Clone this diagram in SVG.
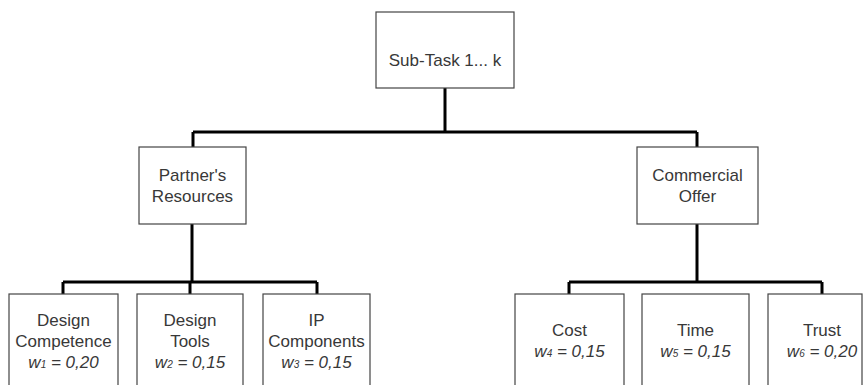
<svg xmlns="http://www.w3.org/2000/svg" width="868" height="385" viewBox="0 0 868 385">
<style>
.box{fill:#fff;stroke:#444;stroke-width:1.2}
.t{font-family:"Liberation Sans",Arial,sans-serif;font-size:17px;fill:#383838;text-anchor:middle}
.w{font-style:italic}
.sub{font-size:10px}
.c{fill:none;stroke:#000;stroke-width:3;stroke-linejoin:miter}
</style>
<rect width="868" height="385" fill="#fff"/>
<g id="connectors">
<path class="c" d="M445 88V132M193 132H697M193 132V147M697 132V147"/>
<path class="c" d="M192 224V282M63 282H317M63 282V294M190 282V294M317 282V294"/>
<path class="c" d="M697 224V282M569 282H822M569 282V294M822 282V294"/>
</g>
<g id="root"><rect class="box" x="376" y="12" width="138" height="76"/><text class="t" x="445" y="66">Sub-Task 1... k</text></g>
<g id="partners"><rect class="box" x="139" y="147" width="107" height="77"/><text class="t" x="192.5" y="181">Partner's</text><text class="t" x="192.5" y="202">Resources</text></g>
<g id="commercial"><rect class="box" x="637" y="147" width="121" height="77"/><text class="t" x="697.5" y="181">Commercial</text><text class="t" x="697.5" y="202">Offer</text></g>
<g id="design-competence"><rect class="box" x="9" y="294" width="109" height="100"/><text class="t" x="63.5" y="326">Design</text><text class="t" x="63.5" y="347">Competence</text><text class="t w" x="63.5" y="368">w<tspan class="sub">1</tspan> = 0,20</text></g>
<g id="design-tools"><rect class="box" x="137" y="294" width="106" height="100"/><text class="t" x="190" y="326">Design</text><text class="t" x="190" y="347">Tools</text><text class="t w" x="190" y="368">w<tspan class="sub">2</tspan> = 0,15</text></g>
<g id="ip-components"><rect class="box" x="263" y="294" width="107" height="100"/><text class="t" x="316.5" y="326">IP</text><text class="t" x="316.5" y="347">Components</text><text class="t w" x="316.5" y="368">w<tspan class="sub">3</tspan> = 0,15</text></g>
<g id="cost"><rect class="box" x="515" y="294" width="109" height="100"/><text class="t" x="569.5" y="336">Cost</text><text class="t w" x="569.5" y="357">w<tspan class="sub">4</tspan> = 0,15</text></g>
<g id="time"><rect class="box" x="642" y="294" width="107" height="100"/><text class="t" x="695.5" y="336">Time</text><text class="t w" x="695.5" y="357">w<tspan class="sub">5</tspan> = 0,15</text></g>
<g id="trust"><rect class="box" x="768" y="294" width="94" height="100"/><text class="t" x="822" y="336">Trust</text><text class="t w" x="822" y="357">w<tspan class="sub">6</tspan> = 0,20</text></g>
</svg>
